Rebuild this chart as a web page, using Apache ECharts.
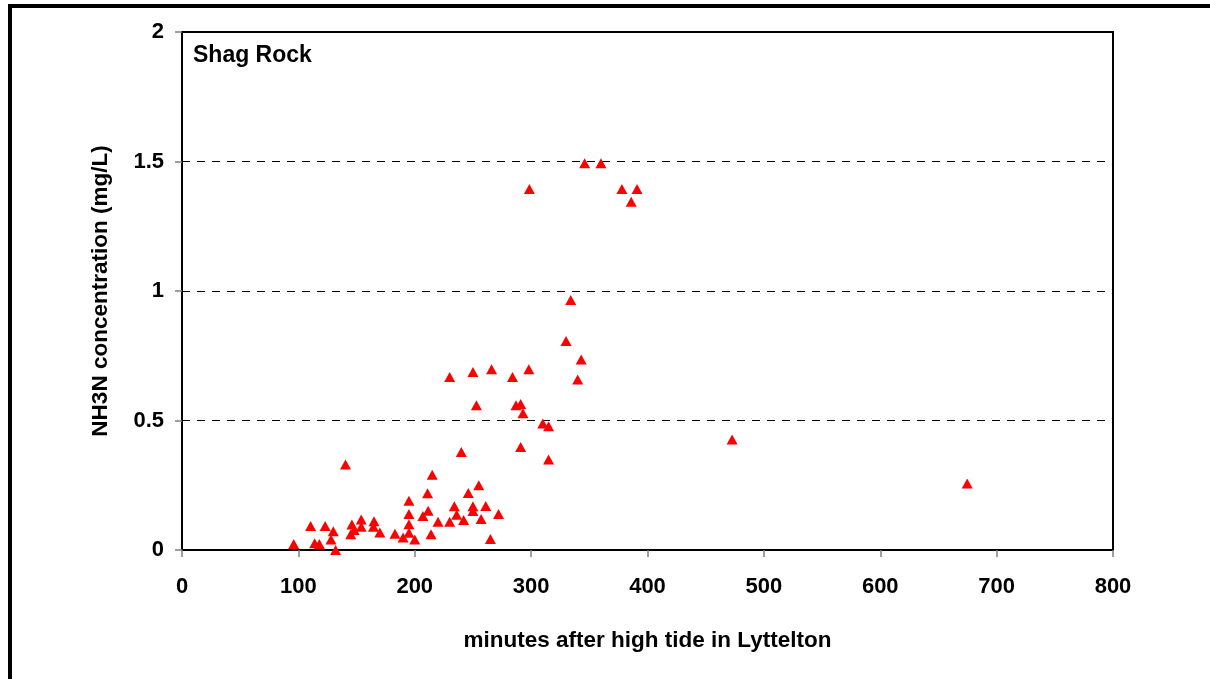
<!DOCTYPE html>
<html><head><meta charset="utf-8">
<script src="https://cdn.jsdelivr.net/npm/echarts@6/dist/echarts.min.js"></script>
<style>html,body{margin:0;padding:0;background:#fff}#c{width:1210px;height:679px}</style>
</head><body><div id="c"></div>
<script>
// minutes after high tide in Lyttelton
const minutes = [96, 110.5, 114, 118, 123, 128, 130, 132, 140.5, 145, 146, 148, 154, 154, 164.5, 165, 170, 183, 190,
  195, 195, 195, 195, 200, 207, 211, 211.5, 214, 215, 220, 230, 230, 234, 236, 240, 242, 246, 250, 250, 250,
  253, 255, 257, 261, 265, 266, 272, 284, 287, 291, 291, 293, 298, 298.5, 310, 315, 315, 330, 334, 340, 343,
  346, 360, 378, 386, 391, 472.7, 674.7];
// NH3N concentration (mg/L)
const nh3n = [0.023, 0.093, 0.026, 0.023, 0.093, 0.041, 0.072, 0.0, 0.33, 0.061, 0.098, 0.077, 0.118, 0.09, 0.09, 0.111, 0.068, 0.063, 0.048,
  0.19, 0.139, 0.099, 0.067, 0.041, 0.131, 0.219, 0.152, 0.061, 0.291, 0.109, 0.109, 0.668, 0.169, 0.136, 0.378, 0.116, 0.22, 0.169, 0.151, 0.687,
  0.559, 0.25, 0.12, 0.17, 0.042, 0.698, 0.139, 0.668, 0.559, 0.564, 0.398, 0.528, 0.698, 1.394, 0.488, 0.478, 0.349, 0.807, 0.965, 0.658, 0.736,
  1.493, 1.493, 1.394, 1.345, 1.394, 0.427, 0.257];
const siteName = 'Shag Rock';
const xTitle = 'minutes after high tide in Lyttelton';
const yTitle = 'NH3N concentration (mg/L)';

const FONT = "'Liberation Sans', Arial, sans-serif";
const points = minutes.map((m, i) => [m, nh3n[i]]);
const chart = echarts.init(document.getElementById('c'), null, {renderer: 'canvas'});
chart.setOption({
  animation: false,
  backgroundColor: '#fff',
  textStyle: {fontFamily: FONT},
  title: {text: siteName, left: 193, top: 44, padding: 0,
    textStyle: {fontFamily: FONT, fontSize: 23, fontWeight: 'bold', color: '#000'}},
  grid: {left: 182, top: 32, right: 97, bottom: 129, show: true, borderColor: '#000', borderWidth: 2, backgroundColor: '#fff'},
  xAxis: {
    type: 'value', min: 0, max: 800, interval: 100,
    name: xTitle, nameLocation: 'middle', nameGap: 79,
    nameTextStyle: {fontFamily: FONT, fontSize: 22.5, fontWeight: 'bold', color: '#000'},
    axisLine: {show: true, onZero: false, lineStyle: {color: '#000', width: 2}},
    axisTick: {show: true, length: 7, lineStyle: {color: '#808080', width: 1.5}},
    axisLabel: {margin: 26, fontFamily: FONT, fontSize: 22, fontWeight: 'bold', color: '#000'},
    splitLine: {show: false}
  },
  yAxis: {
    type: 'value', min: 0, max: 2, interval: 0.5,
    name: yTitle, nameLocation: 'middle', nameGap: 70,
    nameTextStyle: {fontFamily: FONT, fontSize: 22.5, fontWeight: 'bold', color: '#000'},
    axisLine: {show: true, onZero: false, lineStyle: {color: '#000', width: 2}},
    axisTick: {show: true, length: 7, lineStyle: {color: '#808080', width: 1.5}},
    axisLabel: {margin: 18, fontFamily: FONT, fontSize: 22, fontWeight: 'bold', color: '#000',
      formatter: v => String(v)},
    splitLine: {show: true, lineStyle: {color: '#000', width: 1, type: [8, 7]}}
  },
  series: [{
    type: 'scatter', data: points, symbol: 'triangle', symbolSize: [11, 10],
    itemStyle: {color: '#FF0000', opacity: 1}, z: 5
  }],
  graphic: [{
    type: 'rect', silent: true, z: 100,
    shape: {x: 10, y: 6, width: 1400, height: 900},
    style: {fill: 'none', stroke: '#000', lineWidth: 4}
  }]
});
</script></body></html>
